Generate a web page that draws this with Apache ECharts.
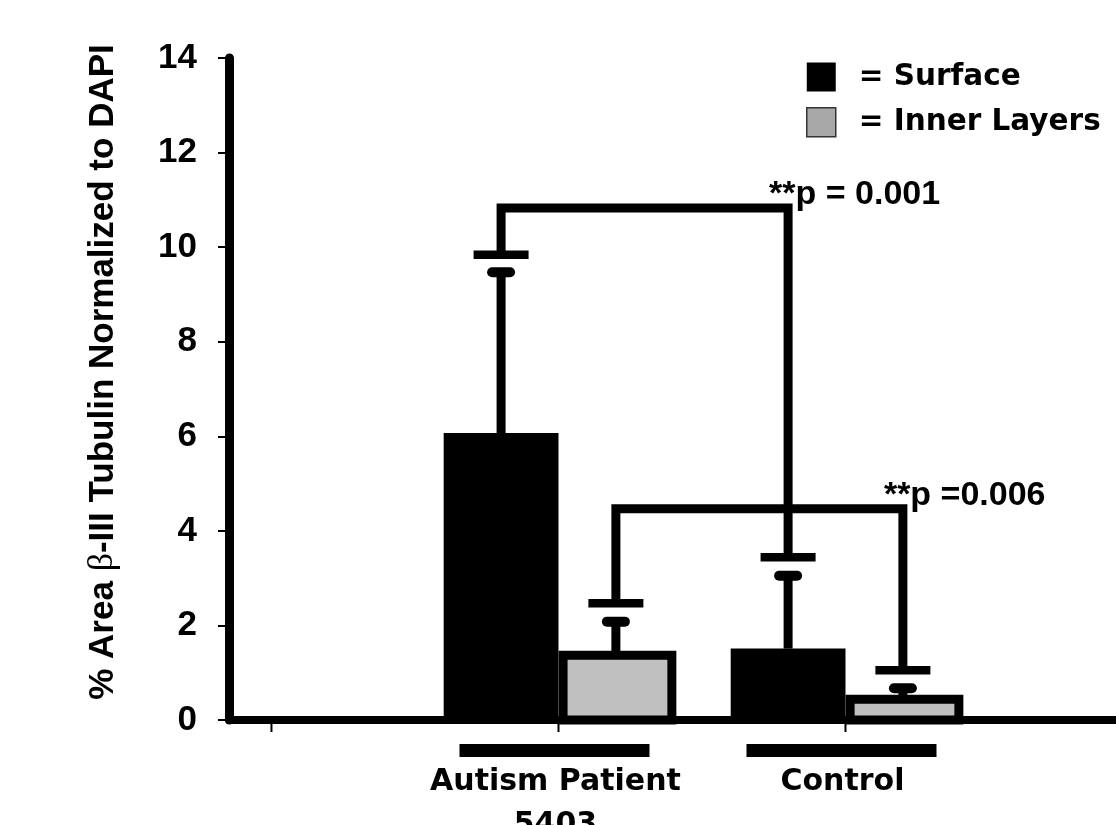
<!DOCTYPE html>
<html>
<head>
<meta charset="utf-8">
<script src="https://cdn.jsdelivr.net/npm/echarts@6/dist/echarts.min.js"></script>
<style>
  html, body { margin: 0; padding: 0; background: #fff; }
  #chart { width: 1116px; height: 825px; }
</style>
</head>
<body>
<div id="chart"></div>
<script>
// ---- data ----
const categories = ['Autism Patient\n5403', 'Control'];
const groupPos = [1, 2];
const xTickValues = [0, 1, 2];
const surfaceMean = [6.07, 1.51];
const surfaceErrUpper = [9.47, 3.05];
const innerMean = [1.37, 0.44];
const innerErrUpper = [2.08, 0.67];
// significance brackets: [cap level at group 1, cap level at group 2, bracket height]
const bracketSurface = [9.84, 3.44, 10.83];
const bracketInner = [2.47, 1.05, 4.47];
const bracketLabels = ['**p = 0.001', '**p =0.006'];
const yTickLabels = ['0', '2', '4', '6', '8', '10', '12', '14'];

// ---- layout / style ----
const BAR_W = 0.4;
const SYMBOL = 'Liberation Sans, Arial, sans-serif';
const WIDE = 'DejaVu Sans, sans-serif';

const chart = echarts.init(document.getElementById('chart'));

function surfaceRender(params, api) {
  const g = api.value(0), v = api.value(1), e = api.value(2);
  const p0 = api.coord([g - BAR_W, 0]);
  const p1 = api.coord([g, v]);
  const eb = api.coord([g - BAR_W / 2, v]);
  const et = api.coord([g - BAR_W / 2, e]);
  return { type: 'group', children: [
    { type: 'rect', shape: { x: p0[0], y: p1[1], width: p1[0] - p0[0], height: p0[1] - p1[1] }, style: { fill: '#000' } },
    { type: 'line', shape: { x1: eb[0], y1: eb[1], x2: et[0], y2: et[1] }, style: { stroke: '#000', lineWidth: 9 } },
    { type: 'line', shape: { x1: et[0] - 9, y1: et[1], x2: et[0] + 9, y2: et[1] }, style: { stroke: '#000', lineWidth: 10, lineCap: 'round' } }
  ]};
}

function innerRender(params, api) {
  const g = api.value(0), v = api.value(1), e = api.value(2);
  const p0 = api.coord([g + 0.016, 0]);
  const p1 = api.coord([g + 0.395, v]);
  const eb = api.coord([g + BAR_W / 2, v]);
  const et = api.coord([g + BAR_W / 2, e]);
  return { type: 'group', children: [
    { type: 'line', shape: { x1: eb[0], y1: eb[1], x2: et[0], y2: et[1] }, style: { stroke: '#000', lineWidth: 9 } },
    { type: 'line', shape: { x1: et[0] - 9, y1: et[1], x2: et[0] + 9, y2: et[1] }, style: { stroke: '#000', lineWidth: 10, lineCap: 'round' } },
    { type: 'rect', shape: { x: p0[0], y: p1[1], width: p1[0] - p0[0], height: p0[1] - p1[1] }, style: { fill: '#c0c0c0', stroke: '#000', lineWidth: 9, lineJoin: 'miter' } }
  ]};
}

function bracketRender(params, api) {
  const xa = api.value(0), xb = api.value(1), ca = api.value(2), cb = api.value(3), top = api.value(4);
  const a = api.coord([xa, ca]);
  const b = api.coord([xb, cb]);
  const t = api.coord([xa, top]);
  const ty = t[1];
  return { type: 'group', children: [
    { type: 'polyline', shape: { points: [[a[0], a[1]], [a[0], ty], [b[0], ty], [b[0], b[1]]] }, style: { stroke: '#000', lineWidth: 9, fill: null, lineJoin: 'miter' } },
    { type: 'line', shape: { x1: a[0] - 27.5, y1: a[1], x2: a[0] + 27.5, y2: a[1] }, style: { stroke: '#000', lineWidth: 8.5 } },
    { type: 'line', shape: { x1: b[0] - 27.5, y1: b[1], x2: b[0] + 27.5, y2: b[1] }, style: { stroke: '#000', lineWidth: 8.5 } },
    { type: 'text', x: b[0] - 19, y: ty - 13, style: { text: bracketLabels[params.dataIndex], fill: '#000', font: 'bold 34px ' + SYMBOL, align: 'left', verticalAlign: 'middle' } }
  ]};
}

function xTickRender(params, api) {
  const p = api.coord([api.value(0), 0]);
  return { type: 'line', shape: { x1: p[0], y1: p[1], x2: p[0], y2: p[1] + 12 }, style: { stroke: '#000', lineWidth: 2 } };
}

function xLabelRender(params, api) {
  const p = api.coord([api.value(0), 0]);
  return { type: 'group', children: [
    { type: 'rect', shape: { x: p[0] - 99, y: p[1] + 24, width: 190, height: 13 }, style: { fill: '#000' } },
    { type: 'text', x: p[0] - 3, y: p[1] + 41, style: { text: categories[params.dataIndex], fill: '#000', font: 'bold 30px ' + WIDE, align: 'center', verticalAlign: 'top', lineHeight: 43 } }
  ]};
}

const option = {
  backgroundColor: '#fff',
  animation: false,
  grid: { left: 229, right: 0, top: 58, bottom: 105, containLabel: false },
  legend: {
    orient: 'vertical', left: 806, top: 62, padding: 0,
    itemWidth: 29, itemHeight: 29, itemGap: 15,
    formatter: '= {name}',
    textStyle: { fontFamily: WIDE, fontWeight: 'bold', fontSize: 29.5, color: '#000', padding: [0, 0, 0, 18], lineHeight: 29 },
    data: [
      { name: 'Surface', icon: 'rect', itemStyle: { color: '#000', borderWidth: 0 } },
      { name: 'Inner Layers', icon: 'rect', itemStyle: { color: '#a8a8a8', borderColor: '#333', borderWidth: 1.5 } }
    ]
  },
  xAxis: {
    type: 'value', min: -0.148, max: 2.9425,
    axisLine: { show: true, onZero: false, lineStyle: { color: '#000', width: 8 } },
    axisTick: { show: false }, axisLabel: { show: false }, splitLine: { show: false }
  },
  yAxis: {
    type: 'value', min: 0, max: 14, interval: 2,
    name: '{b|% Area }{r|β}{b|-III Tubulin Normalized to DAPI}',
    nameLocation: 'middle', nameRotate: 90, nameGap: 108,
    nameTextStyle: {
      padding: [0, 0, 0, 34],
      rich: {
        b: { fontFamily: SYMBOL, fontWeight: 'bold', fontSize: 35, color: '#000' },
        r: { fontFamily: 'Liberation Serif, serif', fontWeight: 'normal', fontSize: 36, color: '#000' }
      }
    },
    axisLine: { show: true, onZero: false, lineStyle: { color: '#000', width: 9, cap: 'round' } },
    axisTick: { show: true, length: 11, lineStyle: { color: '#000', width: 2 } },
    axisLabel: { margin: 32, color: '#000', fontFamily: SYMBOL, fontWeight: 'bold', fontSize: 35, formatter: v => yTickLabels[Math.round(v / 2)] },
    splitLine: { show: false }
  },
  series: [
    { name: 'Surface', type: 'custom', renderItem: surfaceRender, itemStyle: { color: '#000' },
      encode: { x: 0, y: [1, 2] },
      data: groupPos.map((g, i) => [g, surfaceMean[i], surfaceErrUpper[i]]) },
    { name: 'Inner Layers', type: 'custom', renderItem: innerRender, itemStyle: { color: '#a8a8a8', borderColor: '#333', borderWidth: 1.5 },
      encode: { x: 0, y: [1, 2] },
      data: groupPos.map((g, i) => [g, innerMean[i], innerErrUpper[i]]) },
    { name: 'brackets', type: 'custom', renderItem: bracketRender, z: 3,
      encode: { x: [0, 1], y: [2, 3, 4] },
      data: [
        [groupPos[0] - BAR_W / 2, groupPos[1] - BAR_W / 2, bracketSurface[0], bracketSurface[1], bracketSurface[2]],
        [groupPos[0] + BAR_W / 2, groupPos[1] + BAR_W / 2, bracketInner[0], bracketInner[1], bracketInner[2]]
      ] },
    { name: 'xticks', type: 'custom', renderItem: xTickRender, encode: { x: 0 }, data: xTickValues.map(v => [v]) },
    { name: 'xlabels', type: 'custom', renderItem: xLabelRender, encode: { x: 0 }, data: groupPos.map(v => [v]) }
  ]
};
chart.setOption(option);
</script>
</body>
</html>
